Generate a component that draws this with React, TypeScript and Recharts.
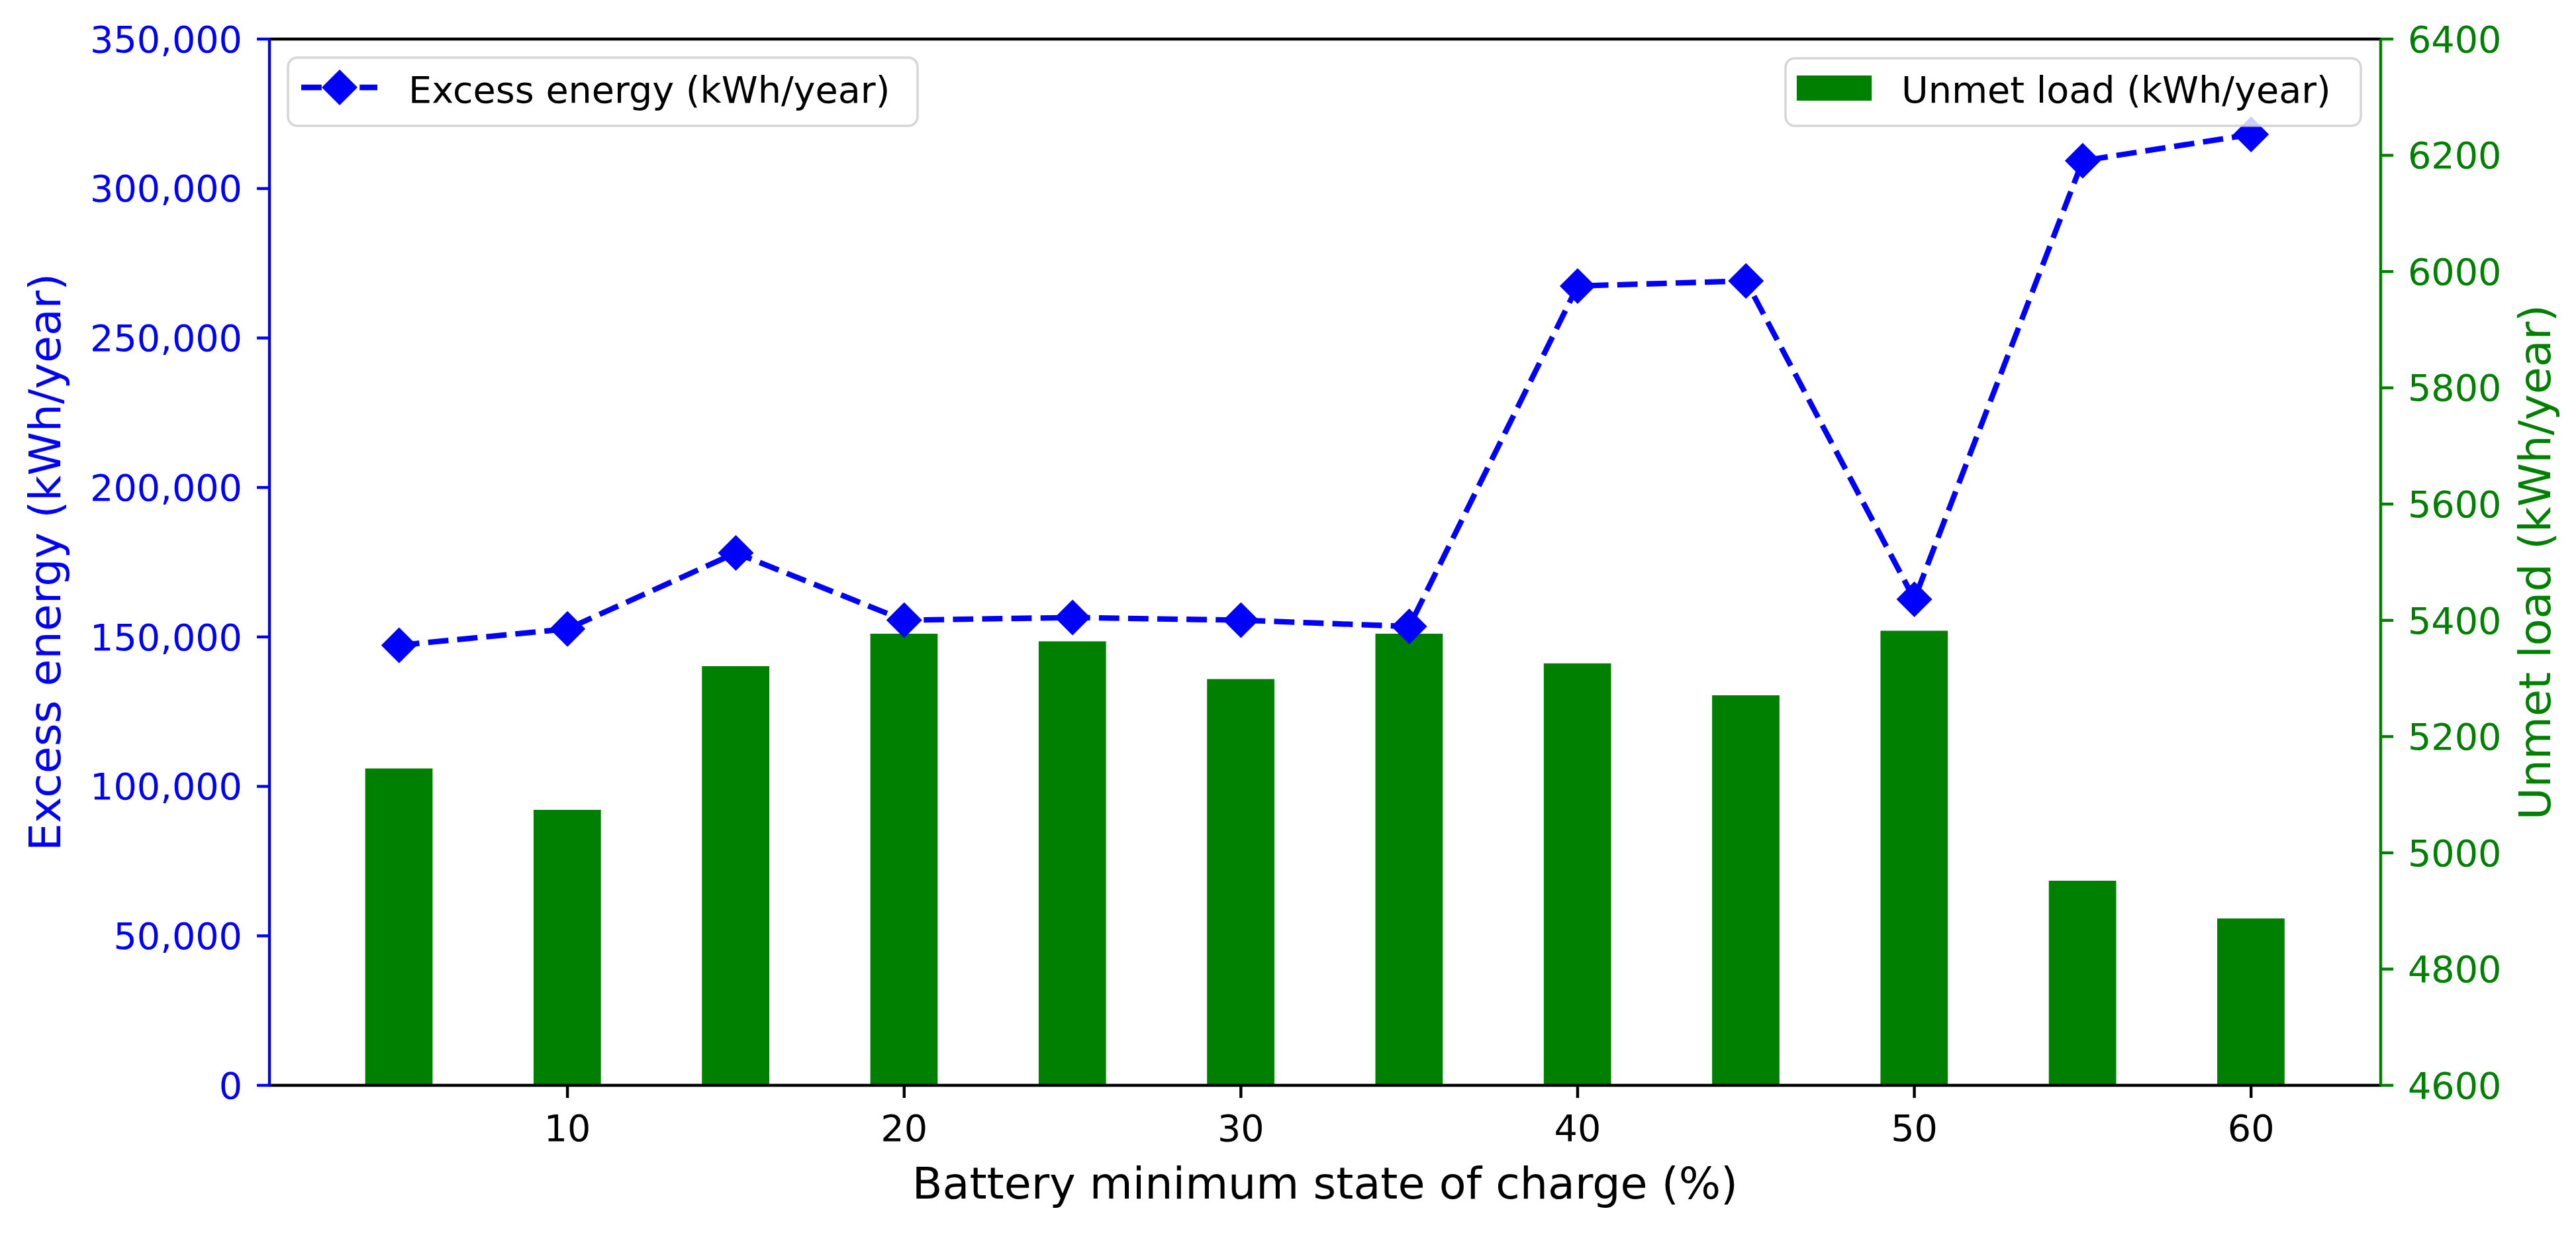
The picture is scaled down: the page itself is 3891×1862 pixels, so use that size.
import { Bar, ComposedChart, Legend, Line, ReferenceLine, XAxis, YAxis } from "recharts";

// Battery minimum SOC (%) on x, two series on twin y axes
const socLevels = [5, 10, 15, 20, 25, 30, 35, 40, 45, 50, 55, 60];
const excessEnergy = [
  147200, 152700, 178100, 155600, 156500, 155600, 153500, 267400, 269100, 162600, 309300, 318100,
];
const unmetLoad = [5145, 5074, 5321, 5377, 5364, 5299, 5377, 5326, 5271, 5382, 4952, 4887];

const xTicks = [10, 20, 30, 40, 50, 60];
const excessTicks = [0, 50000, 100000, 150000, 200000, 250000, 300000, 350000];
const unmetTicks = [4600, 4800, 5000, 5200, 5400, 5600, 5800, 6000, 6200, 6400];

const BLUE = "#0000ff";
const GREEN = "#008000";
const FONT = "DejaVu Sans";

const W = 3891;
const H = 1862;
const TOP = 59;
const LEFT_AXIS_W = 407;
const RIGHT_AXIS_W = 295;
const X_AXIS_H = 223;
const X_DOMAIN: [number, number] = [1.15, 63.85];
const BAR_UNITS = 2;
const PLOT_W = W - LEFT_AXIS_W - RIGHT_AXIS_W;
const PLOT_H = H - TOP - X_AXIS_H;
const BAR_PX = (BAR_UNITS * PLOT_W) / (X_DOMAIN[1] - X_DOMAIN[0]);

const chartData = socLevels.map((soc, i) => ({
  soc,
  excess: excessEnergy[i],
  unmet: unmetLoad[i],
}));

const TICK_SIZE = 19;
const LINE_W = 8.3;
const DASH = "30.8 13.3";
const SPINE_W = 4.4;

function diamondPath(cx: number, cy: number, r: number) {
  return `M${cx},${cy - r}L${cx + r},${cy}L${cx},${cy + r}L${cx - r},${cy}Z`;
}

function renderDiamond(props: any) {
  const { cx, cy, index } = props;
  if (cx == null || cy == null) return <g key={`dot-${index}`} />;
  return <path key={`dot-${index}`} d={diamondPath(cx, cy, 27)} fill={BLUE} stroke="none" />;
}

function renderLegend(props: any) {
  const payload = props.payload ?? [];
  const lineEntry = payload.find((p: any) => p.dataKey === "excess");
  const barEntry = payload.find((p: any) => p.dataKey === "unmet");
  const textStyle = { fontFamily: FONT, fontSize: 55.6, fill: "#000" };

  return (
    <svg width={W} height={210} style={{ display: "block" }}>
      {lineEntry ? (
        <g>
          <rect
            x={435}
            y={87}
            width={951}
            height={103}
            rx={14}
            fill="#ffffff"
            fillOpacity={0.8}
            stroke="#cccccc"
            strokeOpacity={0.8}
            strokeWidth={3.5}
          />
          <line
            x1={455}
            x2={570}
            y1={132}
            y2={132}
            stroke={lineEntry.color}
            strokeWidth={LINE_W}
            strokeDasharray={DASH}
          />
          <path d={diamondPath(513, 132, 27)} fill={lineEntry.color} />
          <text x={617} y={155} style={textStyle}>
            {lineEntry.value}
          </text>
        </g>
      ) : null}
      {barEntry ? (
        <g>
          <rect
            x={2697}
            y={88}
            width={869}
            height={102}
            rx={14}
            fill="#ffffff"
            fillOpacity={0.8}
            stroke="#cccccc"
            strokeOpacity={0.8}
            strokeWidth={3.5}
          />
          <rect x={2714} y={114} width={113} height={38} fill={barEntry.color} />
          <text x={2872} y={155} style={textStyle}>
            {barEntry.value}
          </text>
        </g>
      ) : null}
    </svg>
  );
}

const labelStyle = { fontFamily: FONT, fontSize: 66.7 };

function renderLeftLabel() {
  const cy = TOP + PLOT_H / 2;
  return (
    <text
      x={91}
      y={cy}
      textAnchor="middle"
      transform={`rotate(-90, 91, ${cy})`}
      style={{ ...labelStyle, fill: BLUE }}
    >
      Excess energy (kWh/year)
    </text>
  );
}

function renderRightLabel() {
  const cy = TOP + PLOT_H / 2;
  const x = W - RIGHT_AXIS_W + 256;
  return (
    <text
      x={x}
      y={cy}
      textAnchor="middle"
      transform={`rotate(-90, ${x}, ${cy})`}
      style={{ ...labelStyle, fill: GREEN }}
    >
      Unmet load (kWh/year)
    </text>
  );
}

function renderBottomLabel() {
  return (
    <text
      x={LEFT_AXIS_W + PLOT_W / 2}
      y={TOP + PLOT_H + 171}
      textAnchor="middle"
      style={{ ...labelStyle, fill: "#000" }}
    >
      Battery minimum state of charge (%)
    </text>
  );
}

export default function App() {
  return (
    <div style={{ position: "absolute", left: 0, top: 0, width: W, height: H, background: "#fff" }}>
      <ComposedChart
        width={W}
        height={H}
        data={chartData}
        margin={{ top: TOP, right: 0, bottom: 0, left: 0 }}
      >
        <XAxis
          dataKey="soc"
          type="number"
          domain={X_DOMAIN}
          ticks={xTicks}
          interval={0}
          height={X_AXIS_H}
          tickSize={TICK_SIZE}
          tickMargin={26}
          axisLine={{ stroke: "#000", strokeWidth: SPINE_W }}
          tickLine={{ stroke: "#000", strokeWidth: SPINE_W }}
          tick={{ fill: "#000", fontSize: 55.6, fontFamily: FONT }}
          label={renderBottomLabel}
        />
        <YAxis
          yAxisId="left"
          domain={[0, 350000]}
          ticks={excessTicks}
          interval={0}
          width={LEFT_AXIS_W}
          tickSize={TICK_SIZE}
          tickMargin={22}
          tickFormatter={(v) => Number(v).toLocaleString("en-US")}
          axisLine={{ stroke: BLUE, strokeWidth: SPINE_W }}
          tickLine={{ stroke: BLUE, strokeWidth: SPINE_W }}
          tick={{ fill: BLUE, fontSize: 55.6, fontFamily: FONT }}
          label={renderLeftLabel}
        />
        <YAxis
          yAxisId="right"
          orientation="right"
          domain={[4600, 6400]}
          ticks={unmetTicks}
          interval={0}
          width={RIGHT_AXIS_W}
          tickSize={TICK_SIZE}
          tickMargin={22}
          axisLine={{ stroke: GREEN, strokeWidth: SPINE_W }}
          tickLine={{ stroke: GREEN, strokeWidth: SPINE_W }}
          tick={{ fill: GREEN, fontSize: 55.6, fontFamily: FONT }}
          label={renderRightLabel}
        />
        <ReferenceLine yAxisId="left" y={350000} stroke="#000" strokeWidth={SPINE_W} />
        <Bar
          yAxisId="right"
          dataKey="unmet"
          name="Unmet load (kWh/year)"
          fill={GREEN}
          barSize={BAR_PX}
          isAnimationActive={false}
        />
        <Line
          yAxisId="left"
          type="linear"
          dataKey="excess"
          name="Excess energy (kWh/year)"
          stroke={BLUE}
          strokeWidth={LINE_W}
          strokeDasharray={DASH}
          dot={renderDiamond}
          activeDot={false}
          isAnimationActive={false}
        />
        <Legend
          layout="horizontal"
          verticalAlign="middle"
          align="center"
          width={W}
          wrapperStyle={{ left: 0, top: 0, width: W, height: 210, pointerEvents: "none" }}
          content={renderLegend}
        />
      </ComposedChart>
    </div>
  );
}
